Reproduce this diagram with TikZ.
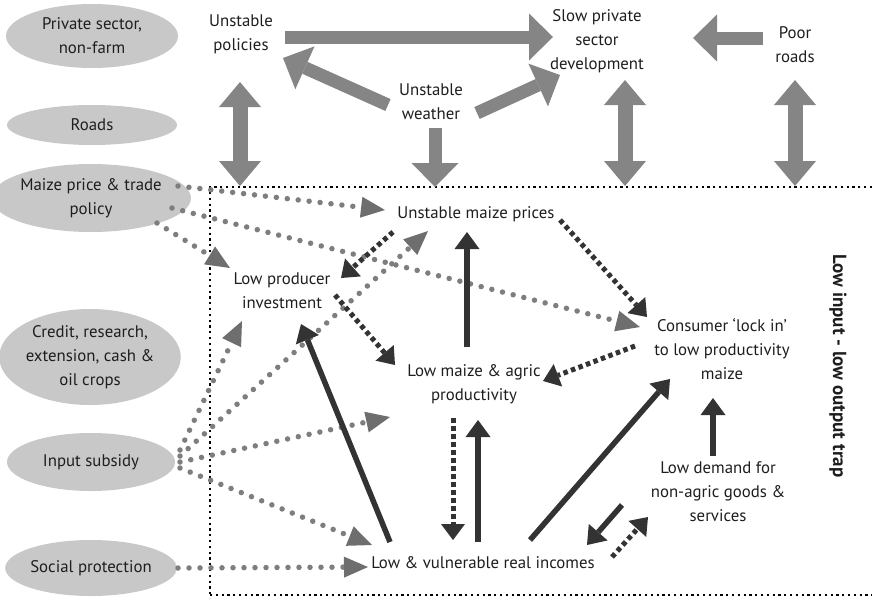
\documentclass[tikz,border=0pt]{standalone}
\usepackage{fontspec}
\setmainfont{PT Sans}
\usetikzlibrary{arrows.meta,calc,shapes.geometric}

\definecolor{ellfill}{HTML}{C8C8C8}
\definecolor{bigarrow}{HTML}{858585}
\definecolor{dotgray}{HTML}{7E7E7E}
\definecolor{headgray}{HTML}{6E6E6E}
\definecolor{darkink}{HTML}{333333}
\definecolor{txt}{HTML}{1E1E1E}

\tikzset{
  lbl/.style={align=center, inner sep=0pt, text=txt,
    font=\fontsize{16.8}{24}\selectfont},
  oval/.style={ellipse, fill=ellfill, draw=none, inner sep=0pt, align=center,
    text=txt, font=\fontsize{16.8}{24}\selectfont},
  bigarr/.style={draw=bigarrow, line width=13pt,
    -{Triangle[length=24pt,width=47pt,line width=0pt]}},
  bigdbl/.style={draw=bigarrow, line width=15pt,
    {Triangle[length=25pt,width=42pt,line width=0pt]}-{Triangle[length=25pt,width=42pt,line width=0pt]}},
  solidarr/.style={draw=darkink, line width=5.5pt,
    -{Triangle[length=17pt,width=25pt,line width=0pt]}},
  dotdark/.style={draw=darkink, line width=5pt, dash pattern=on 4.5pt off 3.5pt,
    -{Triangle[length=16pt,width=24pt,line width=0pt]}},
  dotgrey/.style={draw=dotgray, line width=5.5pt, line cap=round,
    dash pattern=on 0pt off 11pt,
    -{Triangle[length=24pt,width=21pt,line width=0pt,color=headgray]}},
  framedots/.style={draw=black, line width=2.2pt, dash pattern=on 2.2pt off 3.6pt},
}

\begin{document}
\begin{tikzpicture}[x=1pt, y=-1pt]
\useasboundingbox (0,0) rectangle (872,598);

% --- policy areas (left column) ---
\node[oval, minimum width=172pt, minimum height=64pt] (pns) at (92,36) {Private sector,\\non-farm};
\node[oval, minimum width=170pt, minimum height=40pt] (rds) at (92,125) {Roads};
\node[oval, minimum width=172pt, minimum height=68pt] (mpt) at (91,198) {Maize price \& trade\\policy};
\node[oval, minimum width=166pt, minimum height=96pt] (crd) at (90,357) {Credit, research,\\extension, cash \&\\oil crops};
\node[oval, minimum width=168pt, minimum height=58pt] (isub) at (91,462) {Input subsidy};
\node[oval, minimum width=168pt, minimum height=56pt] (sprot) at (91,568) {Social protection};

% --- wider context ---
\node[lbl] (upol) at (241,34) {Unstable\\policies};
\node[lbl] (slow) at (597,41) {Slow private\\sector\\development};
\node[lbl] (poor) at (795,45) {Poor\\roads};
\node[lbl] (uwea) at (431,102) {Unstable\\weather};

% --- the trap ---
\node[lbl] (ump) at (476,214) {Unstable maize prices};
\node[lbl] (lpi) at (282,291) {Low producer\\investment};
\node[lbl] (lmap) at (474,384) {Low maize \& agric\\productivity};
\node[lbl] (cli) at (722,349) {Consumer ‘lock in’\\to low productivity\\maize};
\node[lbl] (ldem) at (718,492) {Low demand for\\non-agric goods \&\\services};
\node[lbl] (lvri) at (483,563) {Low \& vulnerable real incomes};
\node[text=txt, inner sep=0pt, rotate=-90, font=\bfseries\fontsize{19}{22}\selectfont]
  (trap) at (838,366) {Low input - low output trap};

% --- frame of the trap ---
\coordinate (fTR) at (872,187);
\coordinate (fTL) at (210,187);
\coordinate (fBL) at (210,598);
\coordinate (fBl) at (210,595);
\coordinate (fBR) at (872,595);
\draw[framedots] (fTR) -- (fTL) -- (fBL);
\draw[framedots] (fBl) -- (fBR);

% end points on the frame
\coordinate (wdown) at (435,187);
\coordinate (pdown) at (240,186);
\coordinate (sdown) at (625,186);
\coordinate (rdown) at (795,186);

% --- thick grey arrows ---
\draw[bigarr] ($(upol)+(44,3)$) -- ($(slow)+(-44,-4)$);
\draw[bigarr] ($(poor)+(-32,-7)$) -- ($(slow)+(96,-3)$);
\draw[bigarr] ($(uwea)+(-43,3)$) -- ($(upol)+(42,24)$);
\draw[bigarr] ($(uwea)+(46,11)$) -- ($(slow)+(-37,34)$);
\draw[bigarr] ($(uwea)+(4,26)$) -- (wdown);
\draw[bigdbl] ($(upol)+(-1,48)$) -- (pdown);
\draw[bigdbl] ($(slow)+(28,39)$) -- (sdown);
\draw[bigdbl] ($(poor)+(0,35)$) -- (rdown);

% --- policy interventions (grey dotted) ---
\draw[dotgrey] ($(mpt)+(87,-12)$) -- ($(ump)+(-91,-4)$);
\draw[dotgrey] ($(mpt)+(81,10)$) -- ($(cli)+(-82,-22)$);
\draw[dotgrey] ($(mpt)+(66,25)$) -- ($(lpi)+(-52,-23)$);
\draw[dotgrey] ($(isub)+(89,-12)$) -- ($(lpi)+(-40,30)$);
\draw[dotgrey] ($(isub)+(89,-6)$) -- ($(ump)+(-48,17)$);
\draw[dotgrey] ($(isub)+(89,0)$) -- ($(lmap)+(-84,33)$);
\draw[dotgrey] ($(isub)+(89,6)$) -- ($(lvri)+(-111,-18)$);
\draw[dotgrey] ($(sprot)+(87,0)$) -- ($(lvri)+(-115,4)$);

% --- solid links ---
\draw[solidarr] ($(lvri)+(-93,-21)$) -- ($(lpi)+(19,33)$);
\draw[solidarr] ($(lmap)+(-7,-37)$) -- ($(ump)+(-9,18)$);
\draw[solidarr] ($(lvri)+(-5,-21)$) -- ($(lmap)+(4,36)$);
\draw[solidarr] ($(lvri)+(47,-23)$) -- ($(cli)+(-52,30)$);
\draw[solidarr] ($(ldem)+(-5,-36)$) -- ($(cli)+(-9,49)$);
\draw[solidarr] ($(ldem)+(-96,13)$) -- ($(lvri)+(104,-18)$);

% --- dotted links ---
\draw[dotdark] ($(lmap)+(-21,34)$) -- ($(lvri)+(-30,-23)$);
\draw[dotdark] ($(lvri)+(129,-6)$) -- ($(ldem)+(-70,25)$);
\draw[dotdark] ($(cli)+(-87,-3)$) -- ($(lmap)+(69,-3)$);
\draw[dotdark] ($(ump)+(84,6)$) -- ($(cli)+(-75,-32)$);
\draw[dotdark] ($(ump)+(-83,18)$) -- ($(lpi)+(59,-13)$);
\draw[dotdark] ($(lpi)+(53,4)$) -- ($(lmap)+(-79,-19)$);
\end{tikzpicture}
\end{document}
